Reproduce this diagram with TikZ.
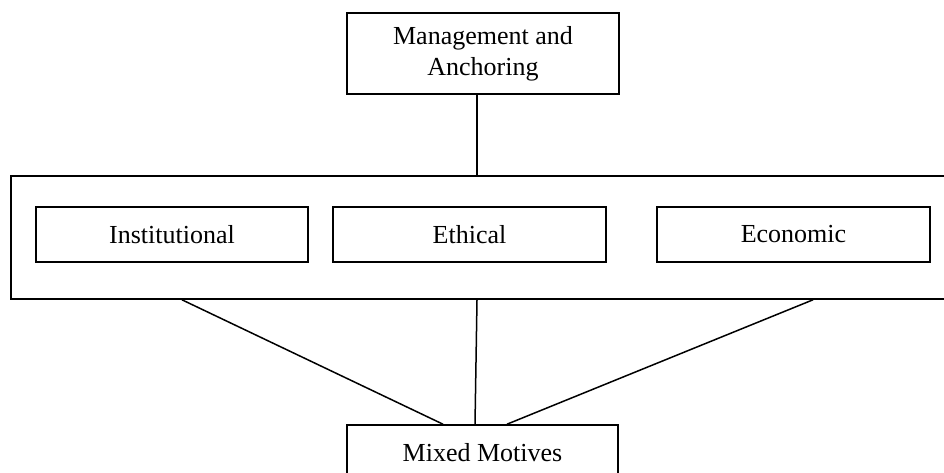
\documentclass[tikz,border=0pt]{standalone}
\usepackage{fontspec}
\setmainfont{Liberation Serif}
\begin{document}
\begin{tikzpicture}[x=1pt,y=-1pt,
  boxstyle/.style={draw=black, line width=1.6pt, inner sep=0pt, align=center,
    font=\fontsize{26}{31}\selectfont},
  linkstyle/.style={draw=black, line width=1.5pt}]
\useasboundingbox (0,0) rectangle (944,472);
\clip (0,0) rectangle (944,472);
% outer group box
\node[boxstyle, minimum width=944pt, minimum height=123pt] (group) at (483,237.5) {};
% top box
\node[boxstyle, minimum width=272pt, minimum height=81pt] (top) at (483,53.5) {Management and\\Anchoring};
% inner boxes
\node[boxstyle, minimum width=272pt, minimum height=55pt] (inst) at (172,234.5) {Institutional};
\node[boxstyle, minimum width=273pt, minimum height=55pt] (eth) at (469.5,234.5) {Ethical};
\node[boxstyle, minimum width=273pt, minimum height=55pt] (eco) at (793.5,234.5) {Economic};
% bottom box
\node[boxstyle, minimum width=271pt, minimum height=55pt] (mixed) at (482.5,452.5) {Mixed Motives};
% connector end points on the box borders
\coordinate (t1) at (top.south -| 477,0);
\coordinate (g0) at (group.north -| 477,0);
\coordinate (g1) at (group.south -| 182,0);
\coordinate (g2) at (group.south -| 477,0);
\coordinate (g3) at (group.south -| 813,0);
\coordinate (m1) at (mixed.north -| 443,0);
\coordinate (m2) at (mixed.north -| 475,0);
\coordinate (m3) at (mixed.north -| 507,0);
\draw[linkstyle] (t1) -- (g0);
\draw[linkstyle] (g1) -- (m1);
\draw[linkstyle] (g2) -- (m2);
\draw[linkstyle] (g3) -- (m3);
\end{tikzpicture}
\end{document}
